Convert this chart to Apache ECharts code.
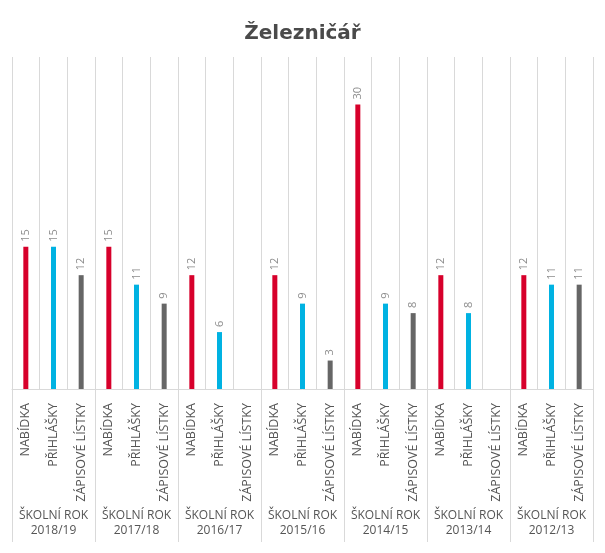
<!DOCTYPE html>
<html>
<head>
<meta charset="utf-8">
<script src="https://cdn.jsdelivr.net/npm/echarts@6/dist/echarts.min.js"></script>
<style>
  html, body { margin: 0; padding: 0; background: #fff; }
  #chart { width: 605px; height: 553px; }
</style>
</head>
<body>
<div id="chart"></div>
<script>
var years = ["2018/19", "2017/18", "2016/17", "2015/16", "2014/15", "2013/14", "2012/13"];
var kinds = ["NABÍDKA", "PŘIHLÁŠKY", "ZÁPISOVÉ LÍSTKY"];
var nabidka = [15, 15, 12, 12, 30, 12, 12];
var prihlasky = [15, 11, 6, 9, 9, 8, 11];
var zapisove = [12, 9, null, 3, 8, null, 11];
var colorList = ["#d7002b", "#00b2e2", "#666666"];

var font = "Open Sans";
var categories = [];
years.forEach(function () {
  kinds.forEach(function (k) { categories.push(k); });
});

// rozlozit hodnoty do 21 kategorii, ostatni null
function spread(values, pos) {
  var out = [];
  values.forEach(function (v) {
    for (var i = 0; i < 3; i++) out.push(i === pos ? v : null);
  });
  return out;
}

var chart = echarts.init(document.getElementById("chart"));
var valueLabel = {
  show: true,
  position: "top",
  rotate: 90,
  align: "left",
  verticalAlign: "middle",
  distance: 5,
  color: "#8c8c8c",
  fontSize: 11,
  fontFamily: font
};

chart.setOption({
  animation: false,
  title: {
    text: "Železničář",
    left: "center",
    top: 19,
    textStyle: { color: "#4a4a4a", fontSize: 20, fontWeight: "bold", fontFamily: "DejaVu Sans" }
  },
  grid: [
    { left: 12, right: 12, top: 57, bottom: 164 },
    { left: 12, right: 12, top: 57, bottom: 11 }
  ],
  xAxis: [
    {
      type: "category",
      gridIndex: 0,
      data: categories,
      axisTick: { show: false },
      axisLine: { lineStyle: { color: "#d9d9d9" } },
      splitLine: { show: true, lineStyle: { color: "#d9d9d9", width: 1 } },
      axisLabel: {
        interval: 0,
        rotate: 90,
        margin: 14,
        color: "#555",
        fontSize: 12.5,
        fontFamily: font
      }
    },
    {
      type: "category",
      gridIndex: 1,
      data: years.map(function (y) { return "ŠKOLNÍ ROK\n" + y; }),
      axisTick: { show: false },
      axisLine: { show: false },
      splitLine: { show: true, lineStyle: { color: "#d9d9d9", width: 1 } },
      axisLabel: {
        inside: true,
        interval: 0,
        margin: 4,
        color: "#555",
        fontSize: 12,
        lineHeight: 15,
        fontFamily: font
      }
    }
  ],
  yAxis: [
    { type: "value", gridIndex: 0, min: 0, max: 35, show: false },
    { type: "value", gridIndex: 1, min: 0, max: 1, show: false }
  ],
  series: [
    {
      type: "bar",
      data: spread(nabidka, 0),
      barWidth: 5,
      barGap: "-100%",
      itemStyle: { color: colorList[0] },
      label: valueLabel
    },
    {
      type: "bar",
      data: spread(prihlasky, 1),
      barWidth: 5,
      barGap: "-100%",
      itemStyle: { color: colorList[1] },
      label: valueLabel
    },
    {
      type: "bar",
      data: spread(zapisove, 2),
      barWidth: 5,
      barGap: "-100%",
      itemStyle: { color: colorList[2] },
      label: valueLabel
    }
  ]
});
</script>
</body>
</html>
